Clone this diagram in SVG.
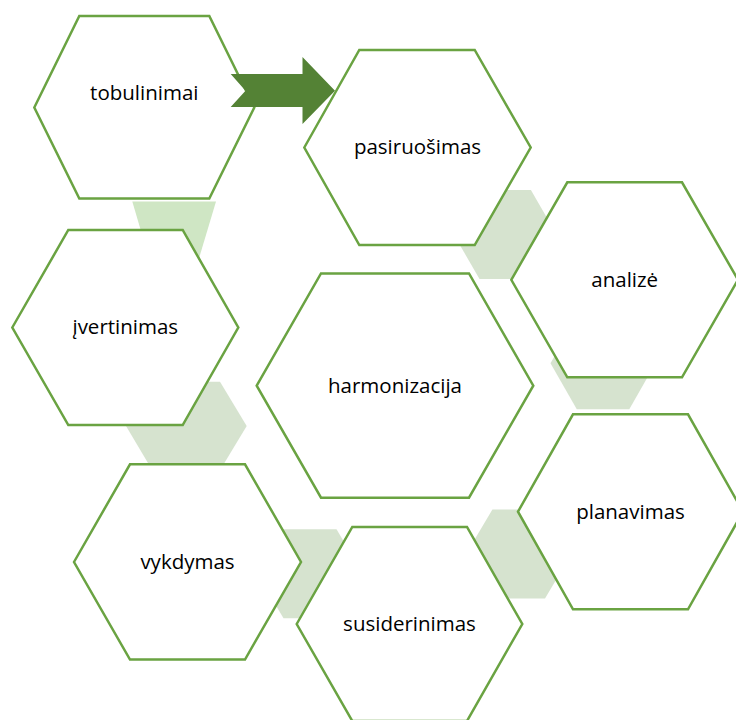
<svg xmlns="http://www.w3.org/2000/svg" width="736" height="720" viewBox="0 0 736 720">
  <style>
    .hex { fill: #ffffff; stroke: #6aa342; stroke-width: 2.5; stroke-linejoin: miter; }
    .con { fill: #d6e3cf; stroke: none; }
    .con1 { fill: #cfe6c4; stroke: none; }
    .lbl { font-family: "Open Sans", "Liberation Sans", sans-serif; font-size: 20.5px; fill: #000000; text-anchor: middle; }
    .arrow { fill: #548235; stroke: none; }
  </style>
  <rect width="736" height="720" fill="#ffffff"/>
  <g id="connectors">
    <polygon class="con1" points="132.3,201.5 216,201.5 197,265 151,265"/>
    <polygon class="con" points="453.8,234.5 479.5,190 530.9,190 556.6,234.5 530.9,279 479.5,279"/>
    <polygon class="con" points="550.5,363.3 576.8,317.3 629.3,317.3 655.5,363.3 629.3,409.3 576.8,409.3"/>
    <polygon class="con" points="466,554 492.4,509.5 545,509.5 571.4,554 545,598.5 492.4,598.5"/>
    <polygon class="con" points="257,573.8 283.5,529.3 336.5,529.3 363,573.8 336.5,618.3 283.5,618.3"/>
    <polygon class="con" points="126,426 152.3,381.7 220,381.7 246.7,426 220,470.3 152.3,470.3"/>
  </g>
  <g id="tobulinimai">
    <polygon class="hex" points="34.3,107.5 79.3,16 209.3,16 254.3,107.5 209.3,198.5 79.3,198.5"/>
    <text class="lbl" x="144.3" y="100">tobulinimai</text>
  </g>
  <g id="pasiruosimas">
    <polygon class="hex" points="304.3,147.5 359.3,50 474.7,50 530.7,147.5 474.7,245 359.3,245"/>
    <text class="lbl" x="417.5" y="154">pasiruošimas</text>
  </g>
  <g id="analize">
    <polygon class="hex" points="511.3,279.8 567.3,182.3 682,182.3 738,279.8 682,377.3 567.3,377.3"/>
    <text class="lbl" x="624.7" y="286.5">analizė</text>
  </g>
  <g id="planavimas">
    <polygon class="hex" points="518,511.7 573,414.3 688,414.3 743,511.7 688,609.3 573,609.3"/>
    <text class="lbl" x="630.5" y="518.5">planavimas</text>
  </g>
  <g id="susiderinimas">
    <polygon class="hex" points="296.7,624 352.3,527 467,527 522.3,624 467,721 352.3,721"/>
    <text class="lbl" x="409.5" y="631">susiderinimas</text>
  </g>
  <g id="vykdymas">
    <polygon class="hex" points="74,562 130,464.3 245,464.3 301,562 245,659.5 130,659.5"/>
    <text class="lbl" x="187.5" y="568.5">vykdymas</text>
  </g>
  <g id="ivertinimas">
    <polygon class="hex" points="12.3,327.5 68.3,230 182.7,230 238.3,327.5 182.7,425 68.3,425"/>
    <text class="lbl" x="125.3" y="333.5">įvertinimas</text>
  </g>
  <g id="harmonizacija">
    <polygon class="hex" points="256.7,385.7 321,273.5 469,273.5 533.3,385.7 469,497.7 321,497.7"/>
    <text class="lbl" x="395" y="393">harmonizacija</text>
  </g>
  <g id="arrow">
    <polygon class="arrow" points="230.7,74 302.5,74 302.5,57 335,90.7 302.5,124 302.5,107 230.7,107 245.5,90.7"/>
  </g>
</svg>
